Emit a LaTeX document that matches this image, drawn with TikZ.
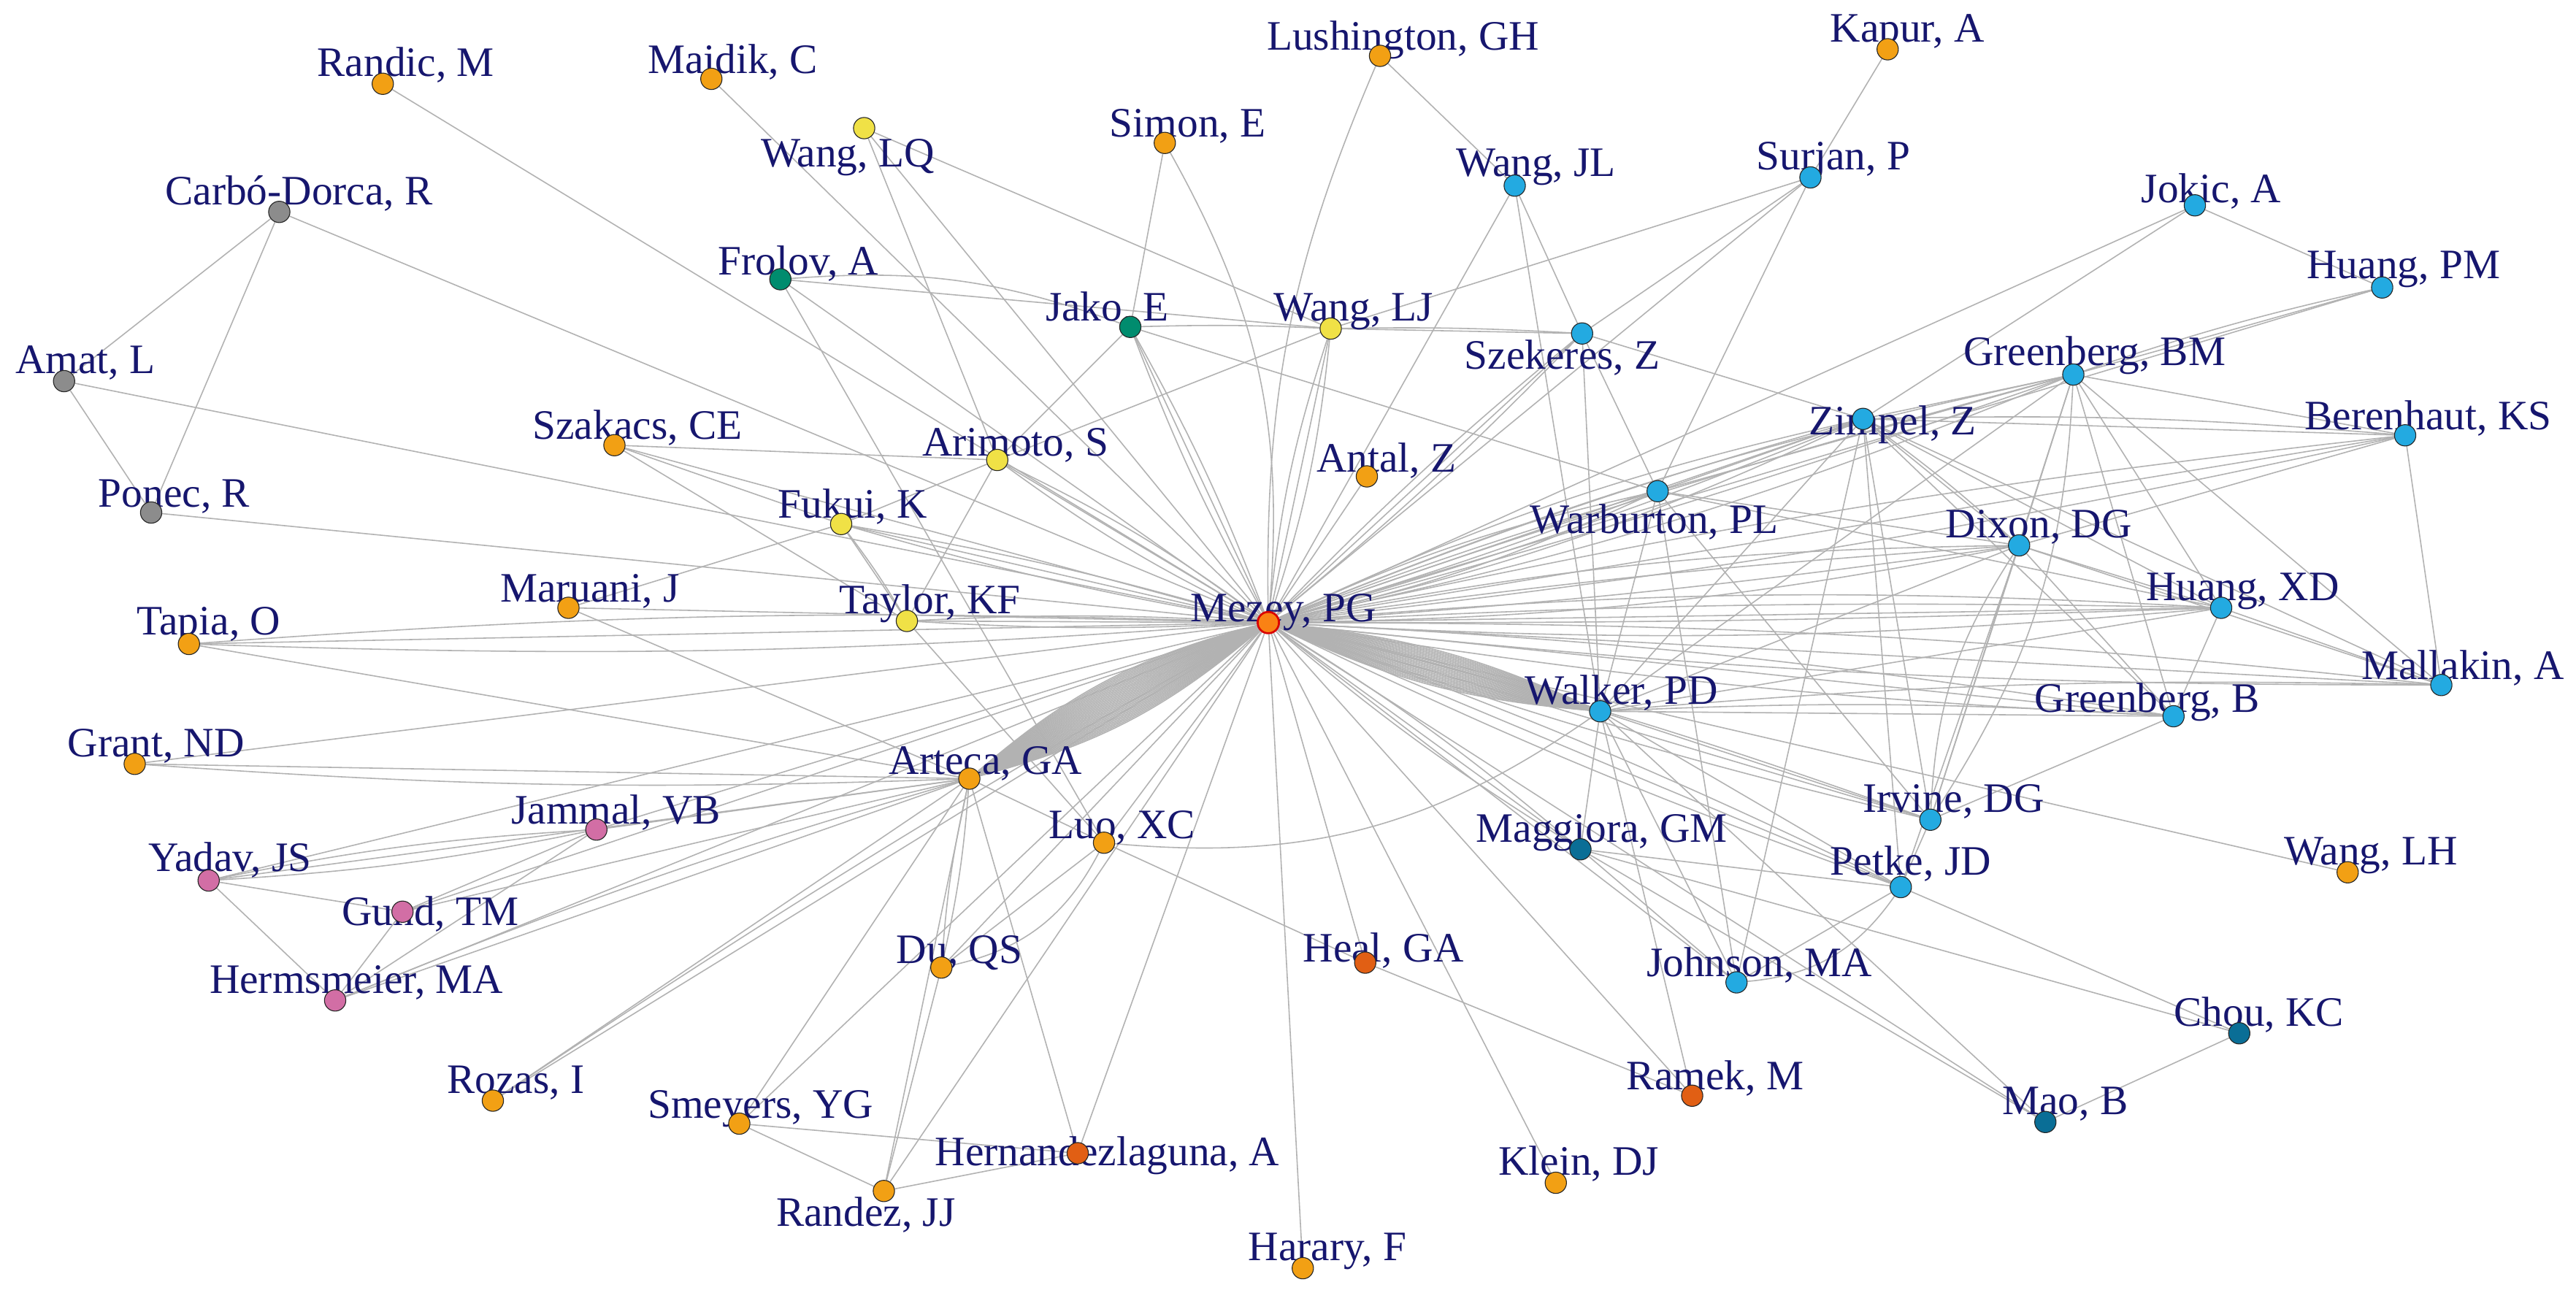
\documentclass[tikz,border=0pt]{standalone}
\usepackage{fontspec}
\setmainfont{Liberation Serif}
\usetikzlibrary{backgrounds}
\definecolor{cOr}{RGB}{242,160,20}
\definecolor{cDo}{RGB}{225,95,20}
\definecolor{cYe}{RGB}{240,225,70}
\definecolor{cCy}{RGB}{35,170,225}
\definecolor{cDb}{RGB}{10,110,150}
\definecolor{cGr}{RGB}{0,140,110}
\definecolor{cGy}{RGB}{140,140,140}
\definecolor{cPk}{RGB}{210,110,165}
\definecolor{cTx}{RGB}{22,22,110}
\definecolor{cEd}{RGB}{178,178,178}
\definecolor{cMz}{RGB}{250,130,20}
\newcommand\au[5]{\node[lbl] (#1-l) at (#4) {#5}; \node[ndot,fill=#3] (#1) at (#2) {};}
\begin{document}
\begin{tikzpicture}[x=1pt,y=-1pt,
  ndot/.style={circle,draw=black!85,line width=0.5pt,minimum size=13pt,inner sep=0pt},
  lbl/.style={text=cTx,font=\fontsize{25.5}{28}\selectfont,inner sep=0pt,anchor=center,text height=16.9pt,text depth=0pt},
  lnk/.style={draw=cEd,line width=0.7pt}]
\useasboundingbox (0,0) rectangle (1568,787);
% nodes
\au{randic}{233,51}{cOr}{247,38}{Randic, M}
\au{majdik}{433,48}{cOr}{446,36}{Majdik, C}
\au{lush}{840,34}{cOr}{854,22}{Lushington, GH}
\au{kapur}{1149,30}{cOr}{1161,17}{Kapur, A}
\au{wanglq}{526,78}{cYe}{516,93}{Wang, LQ}
\au{simon}{709,87}{cOr}{723,75}{Simon, E}
\au{wangjl}{922,113}{cCy}{935,99}{Wang, JL}
\au{surjan}{1102,108}{cCy}{1116,95}{Surjan, P}
\au{jokic}{1336,125}{cCy}{1346,115}{Jokic, A}
\au{carbo}{170,129}{cGy}{182,116}{Carbó-Dorca, R}
\au{huangpm}{1450,175}{cCy}{1463,161}{Huang, PM}
\au{frolov}{475,170}{cGr}{486,159}{Frolov, A}
\au{jako}{688,199}{cGr}{674,187}{Jako, E}
\au{wanglj}{810,200}{cYe}{824,187}{Wang, LJ}
\au{szek}{963,203}{cCy}{951,216}{Szekeres, Z}
\au{grbm}{1262,228}{cCy}{1275,214}{Greenberg, BM}
\au{amat}{39,232}{cGy}{52,219}{Amat, L}
\au{szak}{374,271}{cOr}{388,259}{Szakacs, CE}
\au{arim}{607,280}{cYe}{618,269}{Arimoto, S}
\au{zimp}{1134,255}{cCy}{1152,256}{Zimpel, Z}
\au{beren}{1464,265}{cCy}{1478,253}{Berenhaut, KS}
\au{antal}{832,290}{cOr}{844,279}{Antal, Z}
\au{ponec}{92,312}{cGy}{106,300}{Ponec, R}
\au{fukui}{512,319}{cYe}{519,307}{Fukui, K}
\au{warb}{1009,299}{cCy}{1007,316}{Warburton, PL}
\au{dixon}{1229,332}{cCy}{1241,319}{Dixon, DG}
\au{maru}{346,370}{cOr}{359,358}{Maruani, J}
\au{taylor}{552,378}{cYe}{566,365}{Taylor, KF}
\au{huangxd}{1352,370}{cCy}{1365,357}{Huang, XD}
\au{tapia}{115,392}{cOr}{127,378}{Tapia, O}
\au{mall}{1486,417}{cCy}{1499,405}{Mallakin, A}
\au{walker}{974,433}{cCy}{987,420}{Walker, PD}
\au{grb}{1323,436}{cCy}{1307,425}{Greenberg, B}
\au{grant}{82,465}{cOr}{95,452}{Grant, ND}
\au{arteca}{590,474}{cOr}{600,463}{Arteca, GA}
\au{irvine}{1175,499}{cCy}{1189,486}{Irvine, DG}
\au{jammal}{363,505}{cPk}{375,493}{Jammal, VB}
\au{luo}{672,513}{cOr}{683,502}{Luo, XC}
\au{magg}{962,517}{cDb}{975,504}{Maggiora, GM}
\au{wanglh}{1429,531}{cOr}{1443,518}{Wang, LH}
\au{yadav}{127,536}{cPk}{140,522}{Yadav, JS}
\au{petke}{1157,540}{cCy}{1163,524}{Petke, JD}
\au{gund}{245,555}{cPk}{262,555}{Gund, TM}
\au{du}{573,589}{cOr}{584,578}{Du, QS}
\au{heal}{831,586}{cDo}{842,577}{Heal, GA}
\au{johnson}{1057,598}{cCy}{1071,586}{Johnson, MA}
\au{herm}{204,609}{cPk}{217,596}{Hermsmeier, MA}
\au{chou}{1363,629}{cDb}{1375,616}{Chou, KC}
\au{rozas}{300,670}{cOr}{314,657}{Rozas, I}
\au{ramek}{1030,667}{cDo}{1044,655}{Ramek, M}
\au{smey}{450,684}{cOr}{463,672}{Smeyers, YG}
\au{hern}{656,702}{cDo}{674,701}{Hernandezlaguna, A}
\au{mao}{1245,683}{cDb}{1257,670}{Mao, B}
\au{klein}{947,720}{cOr}{961,707}{Klein, DJ}
\au{randez}{538,725}{cOr}{527,738}{Randez, JJ}
\au{harary}{793,772}{cOr}{808,759}{Harary, F}
\node[lbl] (mezey-l) at (781,370) {Mezey, PG};
\node[ndot,fill=cMz,draw=red!85!black,line width=1.2pt] (mezey) at (772,379) {};
% connectors
\begin{scope}[on background layer]
\fill[white] (0,0) rectangle (1568,787);
\foreach \n in {randic,majdik,wanglq,wangjl,surjan,jokic,carbo,huangpm,frolov,jako,szek,amat,szak,antal,ponec,fukui,maru,taylor,tapia,grant,jammal,luo,yadav,gund,du,heal,herm,rozas,ramek,smey,hern,mao,klein,randez,harary,wanglh,beren,mall,grb,johnson,magg,petke,irvine,huangxd}
  \draw[lnk] (mezey) -- (\n);
\draw[lnk] (simon) to[bend left=17] (mezey);
\draw[lnk] (lush) to[bend right=12] (mezey);
\foreach \k in {-13,-12.2,...,13} \draw[lnk] (mezey) to[bend left=\k] (arteca);
\foreach \k in {-10,-9.2,...,10} \draw[lnk] (mezey) to[bend left=\k] (walker);
\foreach \k in {-6,0,6} \draw[lnk] (mezey) to[bend left=\k] (wanglj);
\foreach \k in {-5,0,5} \draw[lnk] (mezey) to[bend left=\k] (arim);
\foreach \k in {-6,-2,2,6} \draw[lnk] (mezey) to[bend left=\k] (warb);
\foreach \k in {-6,-3,0,3,6} \draw[lnk] (mezey) to[bend left=\k] (zimp);
\foreach \k in {-5,-2,2,5} \draw[lnk] (mezey) to[bend left=\k] (grbm);
\foreach \k in {-5,-2,2,5} \draw[lnk] (mezey) to[bend left=\k] (dixon);
\foreach \k in {-4,-1,2,4} \draw[lnk] (mezey) to[bend left=\k] (huangxd);
\foreach \k in {-3,3} \draw[lnk] (mezey) to[bend left=\k] (grb);
\foreach \k in {-3,3} \draw[lnk] (mezey) to[bend left=\k] (beren);
\foreach \k in {-3,3} \draw[lnk] (mezey) to[bend left=\k] (mall);
\foreach \k in {-3,3} \draw[lnk] (mezey) to[bend left=\k] (irvine);
\foreach \k in {-3,3} \draw[lnk] (mezey) to[bend left=\k] (petke);
\foreach \k in {-4,4} \draw[lnk] (mezey) to[bend left=\k] (magg);
\foreach \k in {-3,3} \draw[lnk] (mezey) to[bend left=\k] (tapia);
\foreach \k in {-3,3} \draw[lnk] (mezey) to[bend left=\k] (fukui);
\foreach \k in {-3,3} \draw[lnk] (mezey) to[bend left=\k] (taylor);
\foreach \k in {-4,4} \draw[lnk] (mezey) to[bend left=\k] (jako);
\foreach \k in {-3,3} \draw[lnk] (mezey) to[bend left=\k] (szek);
% cyan cluster
\foreach \a/\b in {grbm/zimp,grbm/dixon,grbm/beren,grbm/huangxd,grbm/mall,grbm/walker,grbm/warb,grbm/irvine,grbm/huangpm,grbm/grb,
  zimp/jokic,zimp/dixon,zimp/warb,zimp/walker,zimp/irvine,zimp/huangxd,zimp/beren,zimp/grb,zimp/mall,zimp/szek,zimp/johnson,zimp/petke,
  dixon/huangxd,dixon/beren,dixon/walker,dixon/warb,dixon/irvine,dixon/grb,dixon/mall,dixon/petke,
  warb/szek,warb/surjan,warb/walker,warb/irvine,warb/huangxd,warb/johnson,
  walker/irvine,walker/grb,walker/huangxd,walker/magg,walker/johnson,walker/petke,walker/mao,walker/ramek,walker/wangjl,walker/szek,
  magg/petke,magg/johnson,magg/chou,magg/mao,petke/irvine,petke/johnson,petke/chou,irvine/grb,
  huangxd/mall,huangxd/grb,beren/mall,jokic/huangpm,szek/wangjl,szek/wanglj,szek/surjan,surjan/kapur,surjan/wanglj,lush/wangjl,chou/mao}
  \draw[lnk] (\a) -- (\b);
\draw[lnk] (zimp) to[bend left=3] (beren);
\draw[lnk] (grbm) to[bend left=3] (huangpm);
\draw[lnk] (zimp) to[bend left=3] (dixon);
\draw[lnk] (jako) to[bend left=2] (wanglj);
\draw[lnk] (wanglj) to[bend left=2] (szek);
\draw[lnk] (johnson) to[bend right=25] (petke);
\draw[lnk] (irvine) to[bend left=15] (dixon);
\draw[lnk] (irvine) to[bend right=15] (grbm);
\draw[lnk] (walker) to[bend left=3] (grb);
\draw[lnk] (walker) to[bend left=3] (mall);
% left side
\foreach \a/\b in {carbo/amat,carbo/ponec,amat/ponec,szak/fukui,szak/taylor,szak/arim,arim/fukui,arim/taylor,arim/wanglq,arim/wanglj,
  fukui/taylor,fukui/maru,frolov/wanglj,frolov/luo,jako/simon,jako/warb,jako/arim,wanglq/wanglj,
  maru/arteca,tapia/arteca,grant/arteca,jammal/gund,jammal/herm,jammal/arteca,yadav/gund,yadav/herm,yadav/arteca,
  gund/herm,gund/arteca,herm/arteca,rozas/arteca,smey/randez,smey/arteca,smey/hern,randez/du,randez/arteca,randez/hern,
  hern/arteca,du/luo,luo/arteca,luo/heal,heal/ramek,taylor/luo}
  \draw[lnk] (\a) -- (\b);
\draw[lnk] (frolov) to[bend left=12] (jako);
\draw[lnk] (yadav) to[bend left=4] (jammal);
\draw[lnk] (yadav) to[bend right=4] (jammal);
\draw[lnk] (du) to[bend left=4] (arteca);
\draw[lnk] (du) to[bend right=4] (arteca);
\draw[lnk] (grant) to[bend right=3] (arteca);
\draw[lnk] (rozas) to[bend left=2] (mezey);
\draw[lnk] (luo) to[bend right=20] (walker);
\draw[lnk] (du) to[bend right=25] (luo);
\draw[lnk] (herm) to[bend left=3] (arteca);
\draw[lnk] (fukui) to[bend left=3] (taylor);
\end{scope}
\end{tikzpicture}
\end{document}
